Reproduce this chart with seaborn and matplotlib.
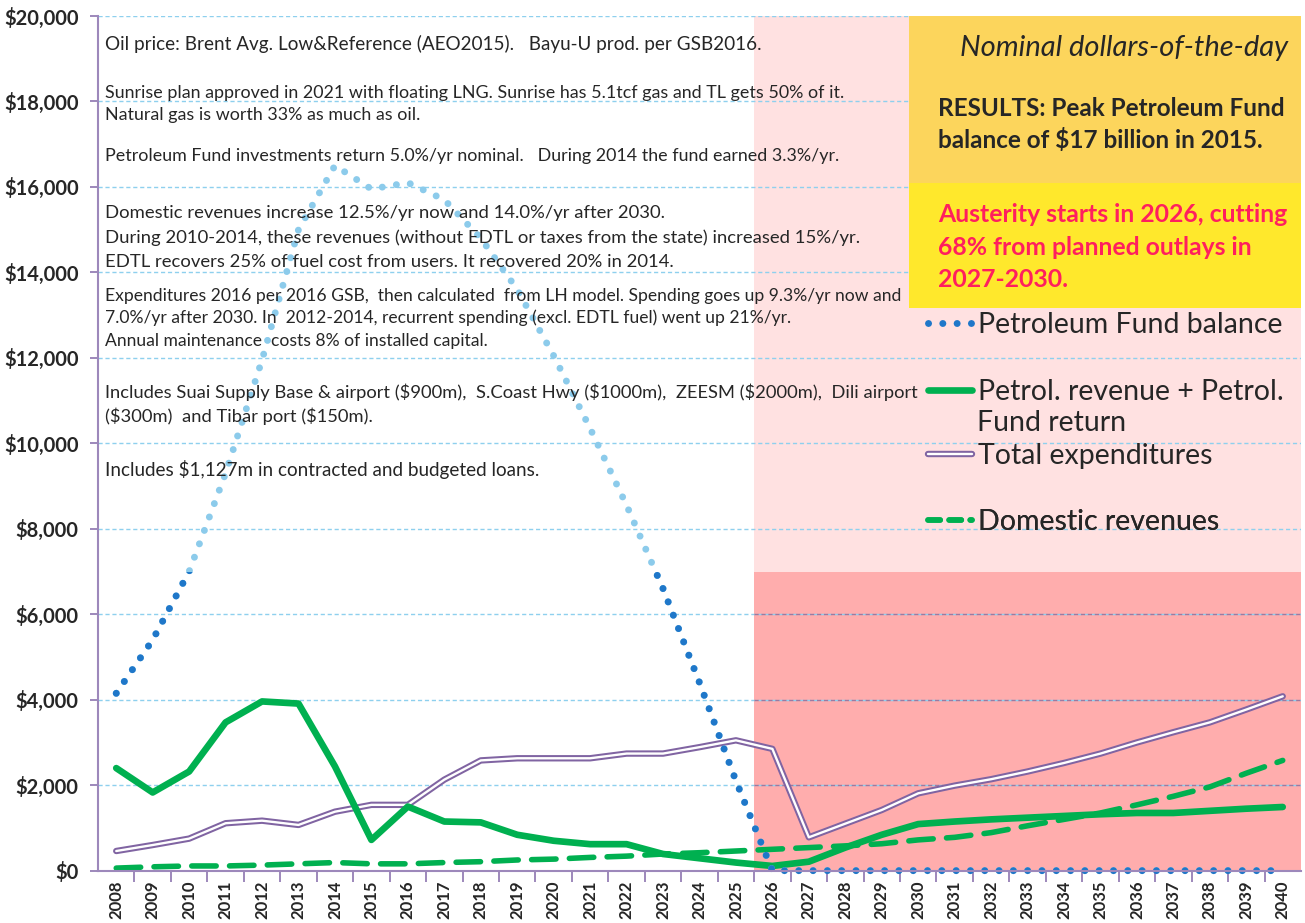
import matplotlib
matplotlib.use("Agg")
import matplotlib.pyplot as plt
import matplotlib.patheffects as pe
from matplotlib.lines import Line2D
from matplotlib.patches import Rectangle
import numpy as np
import pandas as pd
import seaborn as sns

# Dados (milhões de US$, dólares nominais)
years = list(range(2008, 2041))
pf_balance = [4150, 5400, 7000, 9300, 11950, 15000, 16500, 15950, 16100, 15700,
              14800, 13600, 12050, 10350, 8550, 6600, 4400, 2100, 0, 0,
              0, 0, 0, 0, 0, 0, 0, 0, 0, 0,
              0, 0, 0]
petrol_revenue = [2400, 1830, 2320, 3470, 3960, 3910, 2440, 720, 1500, 1150,
                  1130, 840, 700, 620, 620, 390, 290, 190, 110, 210,
                  540, 840, 1090, 1150, 1200, 1240, 1280, 1320, 1350, 1350,
                  1400, 1450, 1490]
expenditures = [460, 600, 750, 1110, 1170, 1070, 1380, 1540, 1540, 2130,
                2580, 2630, 2630, 2630, 2740, 2740, 2890, 3050, 2850, 780,
                1100, 1420, 1810, 1990, 2140, 2320, 2520, 2740, 3000, 3240,
                3470, 3770, 4080]
domestic_revenue = [60, 90, 110, 110, 130, 160, 190, 160, 160, 190,
                    210, 250, 270, 310, 340, 390, 420, 460, 500, 540,
                    580, 630, 720, 780, 890, 1050, 1200, 1350, 1540, 1740,
                    1960, 2280, 2580]

austerity_start = 2026
austerity_level = 7000   # topo da zona vermelha
colour_split = 7000      # linha pontilhada muda de cor aqui

df = pd.DataFrame({'Year': years, 'PF balance': pf_balance,
                   'Petrol revenue': petrol_revenue, 'Expenditures': expenditures,
                   'Domestic revenues': domestic_revenue})

# Cores
dark_blue = '#1F77C9'
light_blue = '#8CCBEB'
green = '#00B050'
purple = '#8064A2'
axis_purple = '#9D88BB'

sns.set_theme(style='white')
plt.rcParams['font.family'] = ['Lato', 'DejaVu Sans']

fig = plt.figure(figsize=(13.05, 9.23), dpi=100)
ax = fig.add_axes([0.0751, 0.0567, 0.9218, 0.926])

# Zonas de austeridade
ax.axvspan(austerity_start - 0.5, years[-1] + 0.5, color='#FFE1E1', zorder=0.1, lw=0)
ax.add_patch(Rectangle((austerity_start - 0.5, 0), years[-1] + 1 - austerity_start, austerity_level,
                       facecolor='#FFADAD', edgecolor='none', zorder=0.2))

# Linhas
dot_lw = 5.0
dot_style = (0, (0.01, 2.05))

sns.lineplot(data=df, x='Year', y='PF balance', ax=ax, color=light_blue, lw=dot_lw)
ln = ax.lines[-1]
ln.set_linestyle(dot_style)
ln.set_dash_capstyle('round')
ln.set_zorder(3)

sns.lineplot(data=df, x='Year', y='PF balance', ax=ax, color=dark_blue, lw=dot_lw)
ln = ax.lines[-1]
ln.set_linestyle(dot_style)
ln.set_dash_capstyle('round')
ln.set_zorder(3.1)
ln.set_clip_path(Rectangle((years[0] - 2, -5000), 40, colour_split + 5000, transform=ax.transData))

sns.lineplot(data=df, x='Year', y='Expenditures', ax=ax, color='white', lw=1.7)
ln = ax.lines[-1]
ln.set_path_effects([pe.withStroke(linewidth=4.6, foreground=purple)])
ln.set_zorder(2.5)

sns.lineplot(data=df, x='Year', y='Petrol revenue', ax=ax, color=green, lw=4.8)
ax.lines[-1].set_zorder(2.8)

sns.lineplot(data=df, x='Year', y='Domestic revenues', ax=ax, color=green, lw=4.0)
ln = ax.lines[-1]
ln.set_linestyle((0, (4.4, 2.4)))
ln.set_dash_capstyle('round')
ln.set_zorder(2.7)

# Eixos
ax.set_xlim(years[0] - 0.5, years[-1] + 0.5)
ax.set_ylim(0, 20000)
ax.set_xlabel('')
ax.set_ylabel('')
ax.set_xticks(years)
ax.set_xticklabels([str(y) for y in years], rotation=90, fontweight='bold', fontsize=12)
ax.set_xticks(np.arange(years[0] + 0.5, years[-1], 1), minor=True)
ax.tick_params(axis='x', which='major', length=0, pad=7)
ax.tick_params(axis='x', which='minor', length=8, width=1.4, color=axis_purple, direction='out', bottom=True)
ax.set_yticks(range(0, 20001, 2000))
ax.set_yticklabels(['${:,}'.format(v) for v in range(0, 20001, 2000)], fontweight='bold', fontsize=14.5)
ax.tick_params(axis='y', length=6, width=1.4, color=axis_purple, direction='out', left=True, pad=8)

for s in ['top', 'right']:
    ax.spines[s].set_visible(False)
for s in ['left', 'bottom']:
    ax.spines[s].set_color(axis_purple)
    ax.spines[s].set_linewidth(1.5)
    ax.spines[s].set_zorder(4)

ax.set_axisbelow(True)
ax.yaxis.grid(True, color='#8ED0EE', linestyle=(0, (3, 2)), lw=1)
ax.hlines([2000, 4000, 6000], austerity_start - 0.5, years[-1] + 0.5, color='#9A7AA2',
          linestyles=(0, (3, 2)), lw=1, zorder=0.6)

# Caixas de resultado
ax.add_patch(Rectangle((0.674, 0.8046), 0.326, 0.1954, transform=ax.transAxes,
                       facecolor='#FCD55C', edgecolor='none', zorder=1.5))
ax.add_patch(Rectangle((0.674, 0.658), 0.326, 0.1466, transform=ax.transAxes,
                       facecolor='#FFE82C', edgecolor='none', zorder=1.5))

ax.text(0.989, 0.9624, 'Nominal dollars-of-the-day', transform=ax.transAxes, ha='right', va='center',
        fontsize=21, style='italic', zorder=5)
ax.text(0.698, 0.892, 'RESULTS: Peak Petroleum Fund', transform=ax.transAxes, va='center',
        fontsize=17.5, fontweight='bold', zorder=5, parse_math=False)
ax.text(0.698, 0.855, 'balance of $17 billion in 2015.', transform=ax.transAxes, va='center',
        fontsize=17.5, fontweight='bold', zorder=5, parse_math=False)
austerity_lines = ['Austerity starts in 2026, cutting', '68% from planned outlays in', '2027-2030.']
for txt, yy in zip(austerity_lines, [0.7676, 0.729, 0.6915]):
    ax.text(0.698, yy, txt, transform=ax.transAxes, va='center', fontsize=17.8,
            fontweight='bold', color='#FF1F5E', zorder=5)

# Notas
notes = [
    ('Oil price: Brent Avg. Low&Reference (AEO2015).   Bayu-U prod. per GSB2016.', 0.967, 13.6),
    ('Sunrise plan approved in 2021 with floating LNG. Sunrise has 5.1tcf gas and TL gets 50% of it.', 0.910, 12.9),
    ('Natural gas is worth 33% as much as oil.', 0.884, 12.9),
    ('Petroleum Fund investments return 5.0%/yr nominal.   During 2014 the fund earned 3.3%/yr.', 0.836, 12.9),
    ('Domestic revenues increase 12.5%/yr now and 14.0%/yr after 2030.', 0.770, 13.3),
    ('During 2010-2014, these revenues (without EDTL or taxes from the state) increased 15%/yr.', 0.740, 13.3),
    ('EDTL recovers 25% of fuel cost from users. It recovered 20% in 2014.', 0.712, 13.3),
    ('Expenditures 2016 per 2016 GSB,  then calculated  from LH model. Spending goes up 9.3%/yr now and', 0.672, 12.6),
    ('7.0%/yr after 2030. In  2012-2014, recurrent spending (excl. EDTL fuel) went up 21%/yr.', 0.647, 12.6),
    ('Annual maintenance  costs 8% of installed capital.', 0.620, 12.6),
    ('Includes Suai Supply Base & airport ($900m),  S.Coast Hwy ($1000m),  ZEESM ($2000m),  Dili airport', 0.560, 13.2),
    ('($300m)  and Tibar port ($150m).', 0.532, 13.2),
    ('Includes $1,127m in contracted and budgeted loans.', 0.469, 13.6),
]
for txt, yy, fs in notes:
    ax.text(0.006, yy, txt, transform=ax.transAxes, va='center', fontsize=fs, zorder=5, parse_math=False)

# Legenda manual
key_fs = 20.5
keys = [
    (Line2D([], [], color=dark_blue, lw=dot_lw, linestyle=dot_style, dash_capstyle='round'),
     'Petroleum Fund balance', 0.6385),
    (Line2D([], [], color=green, lw=4.8), 'Petrol. revenue + Petrol.', 0.560),
    (Line2D([], [], color='white', lw=1.7, path_effects=[pe.withStroke(linewidth=4.6, foreground=purple)]),
     'Total expenditures', 0.4852),
    (Line2D([], [], color=green, lw=4.0, linestyle=(0, (2.2, 1.6)), dash_capstyle='round'),
     'Domestic revenues', 0.408),
]
for h, lab, yy in keys:
    leg = ax.legend(handles=[h], labels=[lab], loc='center left', bbox_to_anchor=(0.690, yy),
                    frameon=False, fontsize=key_fs, handlelength=1.55, handletextpad=0.2,
                    borderpad=0, borderaxespad=0)
    ax.add_artist(leg)
ax.text(0.731, 0.524, 'Fund return', transform=ax.transAxes, va='center', fontsize=key_fs, zorder=5)

fig.savefig('out.png', dpi=100)
